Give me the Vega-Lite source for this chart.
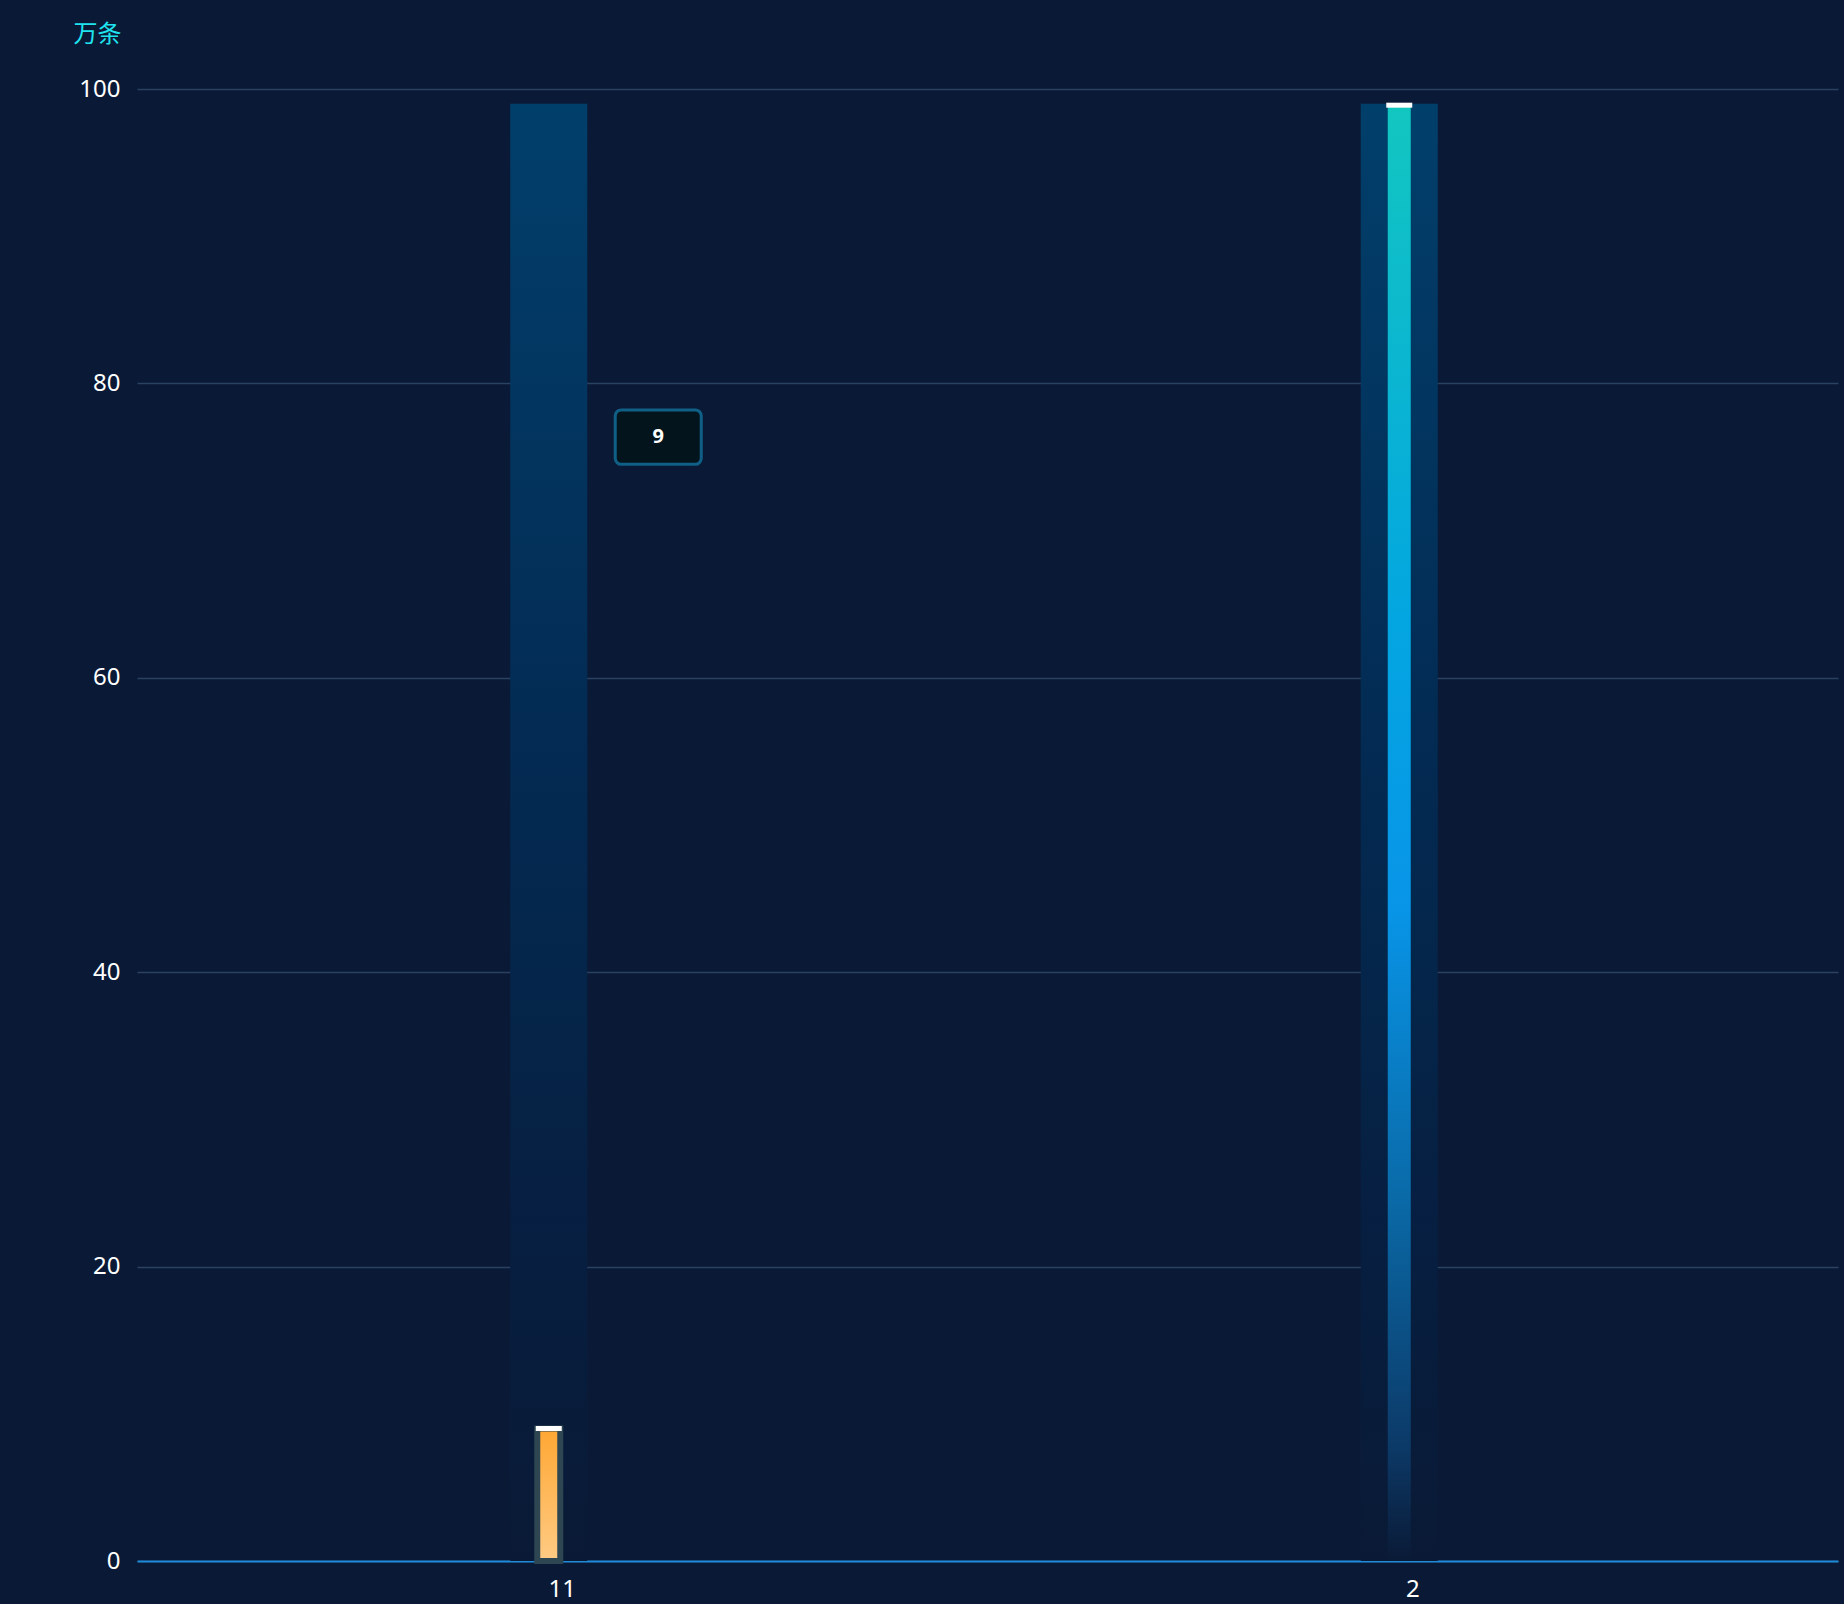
{
  "$schema": "https://vega.github.io/schema/vega-lite/v6.json",
  "autosize": {"type": "none"},
  "width": 1701,
  "height": 1472,
  "padding": {"left": 137, "top": 89, "right": 6, "bottom": 43},
  "background": "#0a1a36",
  "config": {
    "view": {"stroke": null},
    "font": "Noto Sans"
  },
  "data": {
    "values": [
      {"cat": "11", "value": 9, "max": 99},
      {"cat": "2", "value": 98.9, "max": 99}
    ]
  },
  "encoding": {
    "x": {
      "field": "cat",
      "type": "nominal",
      "sort": ["11", "2"],
      "scale": {"domain": ["11", "2"], "paddingInner": 0, "paddingOuter": 0},
      "axis": {
        "title": null,
        "labelAngle": 0,
        "labelColor": "#ffffff",
        "labelFontSize": 24,
        "labelPadding": 16,
        "ticks": false,
        "domainColor": "#1f8ad8",
        "domainWidth": 2,
        "zindex": 0
      }
    }
  },
  "layer": [
    {
      "mark": {
        "type": "bar",
        "width": 77,
        "xOffset": -13.5,
        "fill": {
          "gradient": "linear", "x1": 0, "y1": 0, "x2": 0, "y2": 1,
          "stops": [
            {"offset": 0, "color": "#013f6b"},
            {"offset": 0.2, "color": "#023660"},
            {"offset": 0.45, "color": "#032a52"},
            {"offset": 0.65, "color": "#052447"},
            {"offset": 0.75, "color": "#061f42"},
            {"offset": 0.9, "color": "#081c3a"},
            {"offset": 1, "color": "#0a1a36"}
          ]
        }
      },
      "encoding": {
        "y": {
          "field": "max",
          "type": "quantitative",
          "scale": {"domain": [0, 100], "nice": false},
          "axis": {
            "values": [0, 20, 40, 60, 80, 100],
            "title": "万条",
            "titleAngle": 0,
            "titleAlign": "center",
            "titleBaseline": "middle",
            "titleX": -40,
            "titleY": -55,
            "titleColor": "#1fe3ee",
            "titleFont": "Noto Sans CJK SC",
            "titleFontSize": 24,
            "titleFontWeight": "normal",
            "labelColor": "#ffffff",
            "labelFontSize": 24,
            "labelPadding": 17,
            "ticks": false,
            "domain": false,
            "grid": true,
            "gridColor": "#2a4262",
            "gridWidth": 1.5
          }
        }
      }
    },
    {
      "transform": [{"filter": "datum.cat === '2'"}],
      "mark": {
        "type": "bar",
        "width": 23,
        "xOffset": -13.5,
        "fill": {
          "gradient": "linear", "x1": 0, "y1": 0, "x2": 0, "y2": 1,
          "stops": [
            {"offset": 0, "color": "#12c6c0"},
            {"offset": 0.35, "color": "#03a6e0"},
            {"offset": 0.55, "color": "#0895e8"},
            {"offset": 0.75, "color": "#0a6aa8"},
            {"offset": 0.92, "color": "#0c3a68"},
            {"offset": 1, "color": "#0a1a36"}
          ]
        }
      },
      "encoding": {"y": {"field": "value", "type": "quantitative"}}
    },
    {
      "transform": [{"filter": "datum.cat === '11'"}],
      "mark": {
        "type": "bar",
        "width": 23,
        "xOffset": -13.5,
        "stroke": "#2e4552",
        "strokeWidth": 6,
        "fill": {
          "gradient": "linear", "x1": 0, "y1": 0, "x2": 0, "y2": 1,
          "stops": [
            {"offset": 0, "color": "#ffa733"},
            {"offset": 1, "color": "#ffcb84"}
          ]
        }
      },
      "encoding": {"y": {"field": "value", "type": "quantitative"}}
    },
    {
      "mark": {
        "type": "tick",
        "orient": "horizontal",
        "size": 26,
        "thickness": 5,
        "xOffset": -13.5,
        "color": "#ffffff",
        "opacity": 1
      },
      "encoding": {"y": {"field": "value", "type": "quantitative"}}
    },
    {
      "transform": [{"filter": "datum.cat === '11'"}],
      "mark": {
        "type": "bar",
        "width": 86,
        "xOffset": 96,
        "cornerRadius": 6,
        "fill": "#03141d",
        "stroke": "#0f5f86",
        "strokeWidth": 3
      },
      "encoding": {
        "y": {"datum": 78.2},
        "y2": {"datum": 74.5}
      }
    },
    {
      "transform": [{"filter": "datum.cat === '11'"}],
      "mark": {
        "type": "text",
        "xOffset": 96,
        "color": "#ffffff",
        "fontSize": 20,
        "fontWeight": "bold",
        "baseline": "middle",
        "align": "center"
      },
      "encoding": {
        "y": {"datum": 76.35},
        "text": {"field": "value", "type": "quantitative"}
      }
    }
  ]
}
